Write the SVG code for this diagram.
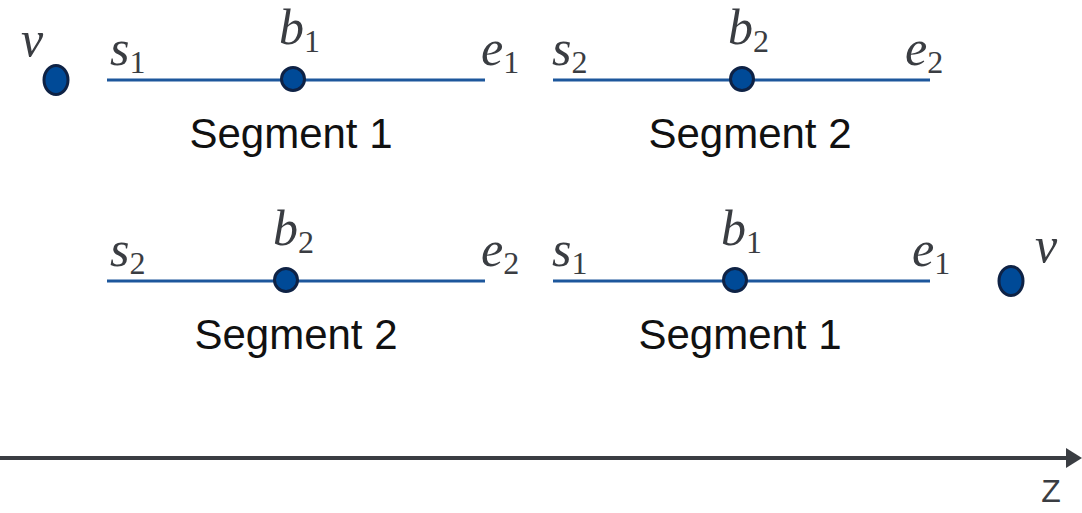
<svg xmlns="http://www.w3.org/2000/svg" width="1082" height="513" viewBox="0 0 1082 513">
<style>
.seg{stroke:#1d579c;stroke-width:3;fill:none}
.dot{fill:#004a97;stroke:#0e2245;stroke-width:3}
.lbl{font-family:"Liberation Sans",Arial,sans-serif;font-size:42px;fill:#111;text-anchor:middle}
.m{font-family:"Liberation Serif","DejaVu Serif",serif;font-style:italic;font-size:50px;fill:#3a3d42}
.sub{font-style:normal;font-size:32px}
.ax{stroke:#3a3d42;stroke-width:4}
</style>
<defs>
<marker id="arr" markerWidth="4" markerHeight="5" refX="1" refY="2.5" orient="auto" markerUnits="strokeWidth">
<path d="M0,0 L4,2.5 L0,5 Z" fill="#3a3d42"/>
</marker>
</defs>
<rect width="1082" height="513" fill="#fff"/>
<g id="connectors">
<line class="seg" x1="107" y1="80" x2="485" y2="80"/>
<line class="seg" x1="553" y1="80" x2="930" y2="80"/>
<line class="seg" x1="107" y1="281" x2="485" y2="281"/>
<line class="seg" x1="553" y1="281" x2="930" y2="281"/>
<line class="ax" x1="0" y1="458" x2="1070" y2="458" marker-end="url(#arr)"/>
</g>
<g id="v-top"><ellipse class="dot" cx="56" cy="80" rx="12" ry="14.5"/><text class="m" x="21" y="56">v</text></g>
<g id="s1-top"><text class="m" x="110" y="65">s<tspan class="sub" dy="8">1</tspan></text></g>
<g id="b1-top"><circle class="dot" cx="293" cy="79" r="11.5"/><text class="m" x="279" y="44">b<tspan class="sub" dy="8">1</tspan></text></g>
<g id="e1-top"><text class="m" x="481" y="65">e<tspan class="sub" dy="8">1</tspan></text></g>
<g id="seg1-top"><text class="lbl" x="291" y="148">Segment 1</text></g>
<g id="s2-top"><text class="m" x="552" y="65">s<tspan class="sub" dy="8">2</tspan></text></g>
<g id="b2-top"><circle class="dot" cx="742" cy="79" r="11.5"/><text class="m" x="728" y="44">b<tspan class="sub" dy="8">2</tspan></text></g>
<g id="e2-top"><text class="m" x="905" y="65">e<tspan class="sub" dy="8">2</tspan></text></g>
<g id="seg2-top"><text class="lbl" x="750" y="148">Segment 2</text></g>
<g id="s2-bot"><text class="m" x="110" y="266">s<tspan class="sub" dy="8">2</tspan></text></g>
<g id="b2-bot"><circle class="dot" cx="286" cy="280" r="11.5"/><text class="m" x="273" y="245">b<tspan class="sub" dy="8">2</tspan></text></g>
<g id="e2-bot"><text class="m" x="481" y="266">e<tspan class="sub" dy="8">2</tspan></text></g>
<g id="seg2-bot"><text class="lbl" x="296" y="349">Segment 2</text></g>
<g id="s1-bot"><text class="m" x="552" y="266">s<tspan class="sub" dy="8">1</tspan></text></g>
<g id="b1-bot"><circle class="dot" cx="735" cy="280" r="11.5"/><text class="m" x="721" y="245">b<tspan class="sub" dy="8">1</tspan></text></g>
<g id="e1-bot"><text class="m" x="912" y="266">e<tspan class="sub" dy="8">1</tspan></text></g>
<g id="seg1-bot"><text class="lbl" x="740" y="349">Segment 1</text></g>
<g id="v-bot"><ellipse class="dot" cx="1011" cy="281" rx="12" ry="14.5"/><text class="m" x="1035" y="262">v</text></g>
<g id="z-label"><text x="1051" y="502" font-family="'Liberation Sans',Arial,sans-serif" font-size="32" fill="#3a3d42" text-anchor="middle">Z</text></g>
</svg>
